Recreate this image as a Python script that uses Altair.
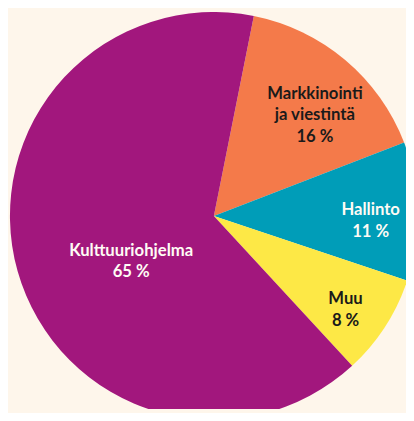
import math
import altair as alt
import pandas as pd

categories = ["Markkinointi ja viestintä", "Hallinto", "Muu", "Kulttuuriohjelma"]
label_lines = ["Markkinointi\nja viestintä", "Hallinto", "Muu", "Kulttuuriohjelma"]
values = [16, 11, 8, 65]

df = pd.DataFrame({
    "category": categories,
    "value": values,
    "order": list(range(len(categories))),
    "label": [f"{l}\n{v} %" for l, v in zip(label_lines, values)],
})

slice_colors = ["#F47A4A", "#009DB8", "#FDE846", "#A2177D"]
white_label = ["Hallinto", "Kulttuuriohjelma"]
bg = "#FEF6EB"

start = math.radians(11.3)
theta_scale = alt.Scale(domain=[0, 100], range=[start, start + 2 * math.pi])
cx, cy, R = 210, 208, 208

arcs = alt.Chart(df).mark_arc(radius=R, clip=True).encode(
    theta=alt.Theta("value:Q", stack=True, scale=theta_scale),
    order=alt.Order("order:Q"),
    x=alt.value(cx),
    y=alt.value(cy),
    color=alt.Color("category:N", scale=alt.Scale(domain=categories, range=slice_colors), legend=None),
)

text_base = alt.Chart(df).transform_window(
    cum="sum(value)", sort=[alt.SortField("order")]
).transform_calculate(
    mid="datum.cum - datum.value / 2"
).encode(
    theta=alt.Theta("mid:Q", stack=False, scale=theta_scale),
    x=alt.value(cx),
    y=alt.value(cy),
    text="label:N",
    color=alt.condition(
        alt.FieldOneOfPredicate(field="category", oneOf=white_label),
        alt.value("#FFFBF5"), alt.value("#1A1A1A")
    ),
)

style = dict(font="Lato", fontWeight="bold", fontSize=17, lineBreak="\n",
             lineHeight=22, align="center", baseline="middle")

outer = text_base.transform_filter(
    alt.FieldOneOfPredicate(field="category", oneOf=categories[:3])
).mark_text(radius=160, dy=-2, **style)

inner = text_base.transform_filter(
    alt.FieldEqualPredicate(field="category", equal=categories[3])
).mark_text(radius=98, dx=10, dy=9, **style)

chart = alt.layer(arcs, outer, inner).properties(
    width=406, height=405,
    autosize=alt.AutoSizeParams(type="none"),
    padding=0,
    background=bg,
).configure_view(stroke=None, fill=bg)

chart.save("out.html", embed_options={"renderer": "svg", "actions": False})
